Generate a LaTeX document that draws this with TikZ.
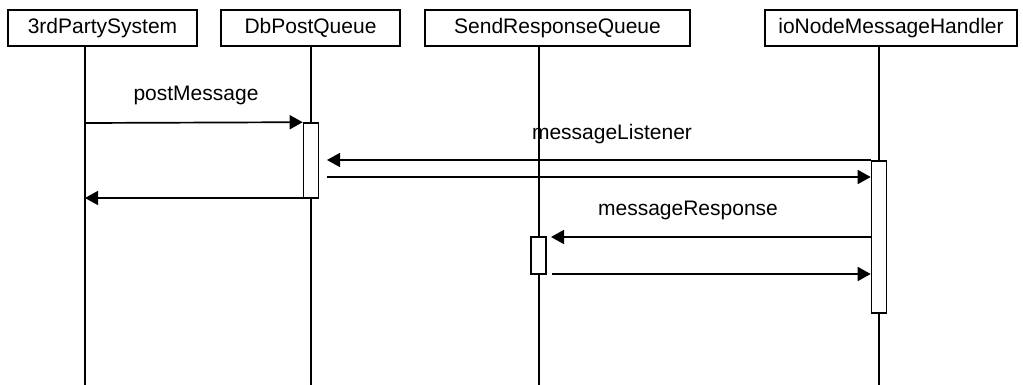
\documentclass[tikz,border=0pt]{standalone}
\usepackage{fontspec}
\setmainfont{Liberation Sans}
\usetikzlibrary{arrows.meta}
\begin{document}
\begin{tikzpicture}[x=1pt,y=-1pt,
  every node/.style={font=\fontsize{21}{25}\selectfont},
  head/.style={draw, line width=1.6pt, minimum height=36pt, inner sep=0pt, fill=white},
  life/.style={line width=1.6pt},
  act/.style={draw, line width=1.6pt, fill=white, minimum width=15pt, inner sep=0pt},
  msg/.style={line width=1.7pt, -{Triangle[length=13pt,width=14pt]}},
  lbl/.style={inner sep=0pt}]
\useasboundingbox (0,0) rectangle (1023,385);
% headers
\node[head, minimum width=189pt] (h1) at (102.5,28) {3rdPartySystem};
\node[head, minimum width=179pt] (h2) at (310.5,28) {DbPostQueue};
\node[head, minimum width=265pt] (h3) at (557.5,28) {SendResponseQueue};
\node[head, minimum width=252pt] (h4) at (891,28) {ioNodeMessageHandler};
% lifeline ends
\coordinate (l1) at (85,385);
\coordinate (l2) at (311,385);
\coordinate (l3) at (539,385);
\coordinate (l4) at (879,385);
\draw[life] (h1.south -| l1) -- (l1);
\draw[life] (h2.south -| l2) -- (l2);
\draw[life] (h3.south -| l3) -- (l3);
\draw[life] (h4.south -| l4) -- (l4);
% activations
\node[act, minimum height=75pt] (a2) at (311,160.5) {};
\node[act, minimum height=152pt] (a4) at (879,237) {};
\node[act, minimum height=37pt] (a3) at (538.5,255.5) {};
% message end points
\coordinate (p1) at (85,123);
\coordinate (p2) at (327,160);
\coordinate (p3) at (327,177);
\coordinate (p4) at (303,198);
\coordinate (p5) at (85,198);
\coordinate (p6) at (551,237);
\coordinate (p7) at (552,274);
% messages
\draw[msg] (p1) -- (a2.north west);
\draw[msg] (a4.west |- p2) -- (p2);
\draw[msg] (p3) -- (a4.west |- p3);
\draw[msg] (p4) -- (p5);
\draw[msg] (a4.west |- p6) -- (p6);
\draw[msg] (p7) -- (a4.west |- p7);
% labels
\node[lbl] (t1) at (196,95) {postMessage};
\node[lbl] (t2) at (612,134) {messageListener};
\node[lbl] (t3) at (688,210) {messageResponse};
\end{tikzpicture}
\end{document}
